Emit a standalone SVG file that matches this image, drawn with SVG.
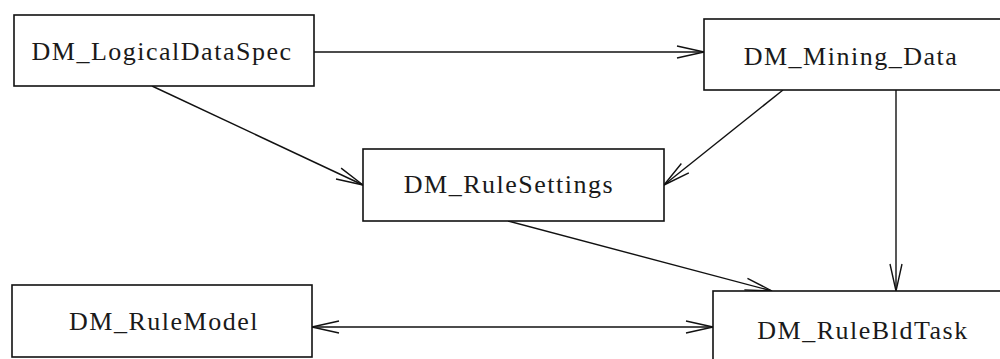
<svg xmlns="http://www.w3.org/2000/svg" width="1000" height="359" viewBox="0 0 1000 359">
  <style>
    .box { fill: #ffffff; stroke: #111111; stroke-width: 1.6; }
    .label { font-family: 'Liberation Serif', 'DejaVu Serif', serif; font-size: 26px; letter-spacing: 1.5px; fill: #1a1a1a; text-anchor: middle; }
    .edge { fill: none; stroke: #111111; stroke-width: 1.4; }
  </style>
  <defs>
    <marker id="head" markerUnits="userSpaceOnUse" markerWidth="32" markerHeight="18" viewBox="-30 -9 32 18" refX="0" refY="0" orient="auto-start-reverse">
      <path d="M-27,-6 L0,0 L-27,6" fill="none" stroke="#111111" stroke-width="1.4"/>
    </marker>
  </defs>
  <rect width="1000" height="359" fill="#ffffff"/>

  <g id="connectors">
    <line class="edge" x1="314" y1="52" x2="704" y2="52" marker-end="url(#head)"/>
    <line class="edge" x1="152" y1="86" x2="363" y2="185" marker-end="url(#head)"/>
    <line class="edge" x1="783" y1="90" x2="664" y2="185" marker-end="url(#head)"/>
    <line class="edge" x1="896" y1="90" x2="896" y2="291" marker-end="url(#head)"/>
    <line class="edge" x1="508" y1="221" x2="772" y2="291" marker-end="url(#head)"/>
    <line class="edge" x1="312" y1="327" x2="713" y2="327" marker-start="url(#head)" marker-end="url(#head)"/>
  </g>

  <g id="DM_LogicalDataSpec">
    <rect class="box" x="14" y="15" width="300" height="71"/>
    <text class="label" x="162" y="60" font-family="Liberation Serif, serif">DM_LogicalDataSpec</text>
  </g>

  <g id="DM_Mining_Data">
    <rect class="box" x="704" y="19" width="310" height="71"/>
    <text class="label" x="851" y="65">DM_Mining_Data</text>
  </g>

  <g id="DM_RuleSettings">
    <rect class="box" x="363" y="149" width="301" height="72"/>
    <text class="label" x="509" y="193">DM_RuleSettings</text>
  </g>

  <g id="DM_RuleModel">
    <rect class="box" x="12" y="285" width="300" height="72"/>
    <text class="label" x="164" y="330">DM_RuleModel</text>
  </g>

  <g id="DM_RuleBldTask">
    <rect class="box" x="713" y="291" width="310" height="80"/>
    <text class="label" x="863" y="339">DM_RuleBldTask</text>
  </g>
</svg>
